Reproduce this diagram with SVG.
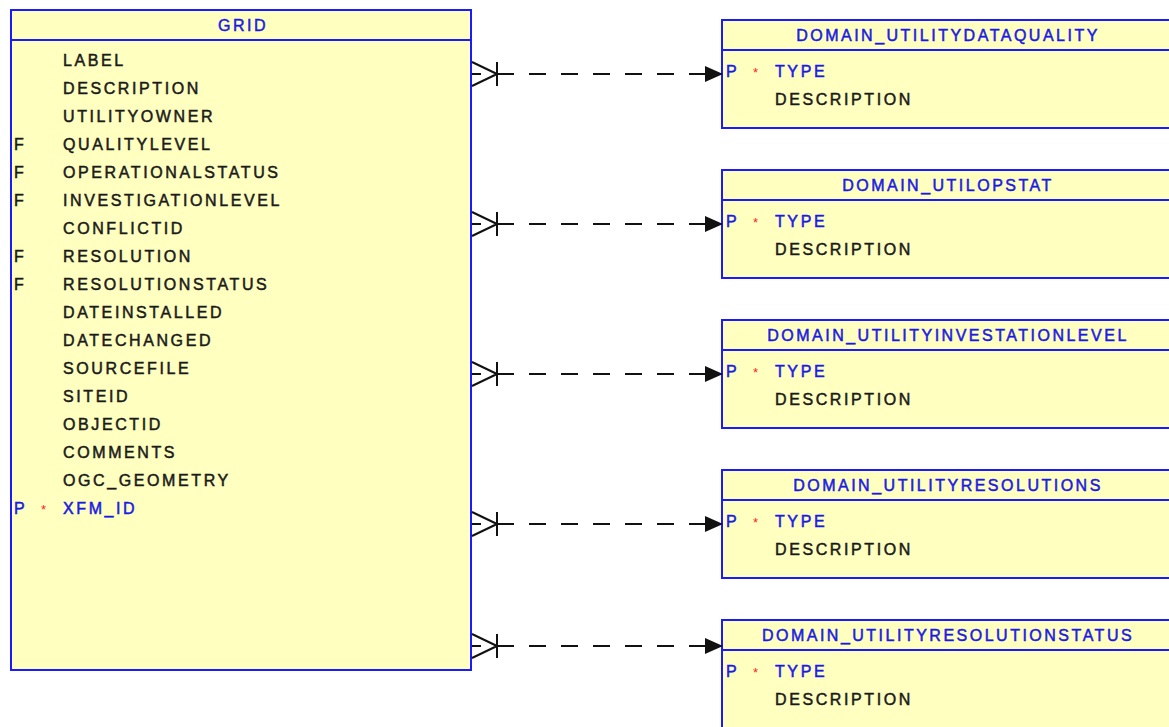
<svg xmlns="http://www.w3.org/2000/svg" width="1169" height="727" viewBox="0 0 1169 727">
<style>
.box{fill:#ffffbf;stroke:#1a1aff;stroke-width:2}
.hl{stroke:#1a1aff;stroke-width:2}
text{font-family:"Liberation Sans",Arial,sans-serif;font-size:16px;letter-spacing:2.6px;stroke-width:0.5}
.h{fill:#1a1ae6;stroke:#1a1ae6;text-anchor:middle;letter-spacing:2.5px}
.c{fill:#1a1a1a;stroke:#1a1a1a}
.k{fill:#1a1ae6;stroke:#1a1ae6}
.s{fill:#ff2020;font-size:13px;letter-spacing:0;stroke:none}
.ln{stroke:#111;stroke-width:2;fill:none}
.dash{stroke-dasharray:17 15}
.ah{fill:#111}
</style>
<g id="GRID">
<rect class="box" x="11" y="10" width="460" height="660"/>
<line class="hl" x1="11" y1="40" x2="471" y2="40"/>
<text class="h" x="243" y="30.5">GRID</text>
<text class="c" x="63" y="66">LABEL</text>
<text class="c" x="63" y="94">DESCRIPTION</text>
<text class="c" x="63" y="122">UTILITYOWNER</text>
<text class="c" x="14" y="150">F</text><text class="c" x="63" y="150">QUALITYLEVEL</text>
<text class="c" x="14" y="178">F</text><text class="c" x="63" y="178">OPERATIONALSTATUS</text>
<text class="c" x="14" y="206">F</text><text class="c" x="63" y="206">INVESTIGATIONLEVEL</text>
<text class="c" x="63" y="234">CONFLICTID</text>
<text class="c" x="14" y="262">F</text><text class="c" x="63" y="262">RESOLUTION</text>
<text class="c" x="14" y="290">F</text><text class="c" x="63" y="290">RESOLUTIONSTATUS</text>
<text class="c" x="63" y="318">DATEINSTALLED</text>
<text class="c" x="63" y="346">DATECHANGED</text>
<text class="c" x="63" y="374">SOURCEFILE</text>
<text class="c" x="63" y="402">SITEID</text>
<text class="c" x="63" y="430">OBJECTID</text>
<text class="c" x="63" y="458">COMMENTS</text>
<text class="c" x="63" y="486">OGC_GEOMETRY</text>
<text class="k" x="14" y="514">P</text><text class="s" x="41" y="514">*</text><text class="k" x="63" y="514">XFM_ID</text>
</g>
<g id="DOMAIN_UTILITYDATAQUALITY">
<rect class="box" x="722" y="20" width="450" height="108"/>
<line class="hl" x1="722" y1="50" x2="1172" y2="50"/>
<text class="h" x="948" y="40.5">DOMAIN_UTILITYDATAQUALITY</text>
<text class="k" x="726" y="77">P</text><text class="s" x="753" y="77">*</text><text class="k" x="775" y="77">TYPE</text>
<text class="c" x="775" y="105">DESCRIPTION</text>
</g>
<g id="DOMAIN_UTILOPSTAT">
<rect class="box" x="722" y="170" width="450" height="108"/>
<line class="hl" x1="722" y1="200" x2="1172" y2="200"/>
<text class="h" x="948" y="190.5">DOMAIN_UTILOPSTAT</text>
<text class="k" x="726" y="227">P</text><text class="s" x="753" y="227">*</text><text class="k" x="775" y="227">TYPE</text>
<text class="c" x="775" y="255">DESCRIPTION</text>
</g>
<g id="DOMAIN_UTILITYINVESTATIONLEVEL">
<rect class="box" x="722" y="320" width="450" height="108"/>
<line class="hl" x1="722" y1="350" x2="1172" y2="350"/>
<text class="h" x="948" y="340.5">DOMAIN_UTILITYINVESTATIONLEVEL</text>
<text class="k" x="726" y="377">P</text><text class="s" x="753" y="377">*</text><text class="k" x="775" y="377">TYPE</text>
<text class="c" x="775" y="405">DESCRIPTION</text>
</g>
<g id="DOMAIN_UTILITYRESOLUTIONS">
<rect class="box" x="722" y="470" width="450" height="108"/>
<line class="hl" x1="722" y1="500" x2="1172" y2="500"/>
<text class="h" x="948" y="490.5">DOMAIN_UTILITYRESOLUTIONS</text>
<text class="k" x="726" y="527">P</text><text class="s" x="753" y="527">*</text><text class="k" x="775" y="527">TYPE</text>
<text class="c" x="775" y="555">DESCRIPTION</text>
</g>
<g id="DOMAIN_UTILITYRESOLUTIONSTATUS">
<rect class="box" x="722" y="620" width="450" height="108"/>
<line class="hl" x1="722" y1="650" x2="1172" y2="650"/>
<text class="h" x="948" y="640.5">DOMAIN_UTILITYRESOLUTIONSTATUS</text>
<text class="k" x="726" y="677">P</text><text class="s" x="753" y="677">*</text><text class="k" x="775" y="677">TYPE</text>
<text class="c" x="775" y="705">DESCRIPTION</text>
</g>
<g id="connectors">
<g transform="translate(0,74)">
<path class="ln" d="M472,-12 L497,0 M472,12 L497,0 M472,0 H481 M497,-12 V12"/>
<path class="ln dash" d="M497,0 H706"/>
<polygon class="ah" points="705,-8 723,0 705,8"/>
</g>
<g transform="translate(0,224)">
<path class="ln" d="M472,-12 L497,0 M472,12 L497,0 M472,0 H481 M497,-12 V12"/>
<path class="ln dash" d="M497,0 H706"/>
<polygon class="ah" points="705,-8 723,0 705,8"/>
</g>
<g transform="translate(0,374)">
<path class="ln" d="M472,-12 L497,0 M472,12 L497,0 M472,0 H481 M497,-12 V12"/>
<path class="ln dash" d="M497,0 H706"/>
<polygon class="ah" points="705,-8 723,0 705,8"/>
</g>
<g transform="translate(0,524)">
<path class="ln" d="M472,-12 L497,0 M472,12 L497,0 M472,0 H481 M497,-12 V12"/>
<path class="ln dash" d="M497,0 H706"/>
<polygon class="ah" points="705,-8 723,0 705,8"/>
</g>
<g transform="translate(0,646)">
<path class="ln" d="M472,-12 L497,0 M472,12 L497,0 M472,0 H481 M497,-12 V12"/>
<path class="ln dash" d="M497,0 H706"/>
<polygon class="ah" points="705,-8 723,0 705,8"/>
</g>
</g>
</svg>
